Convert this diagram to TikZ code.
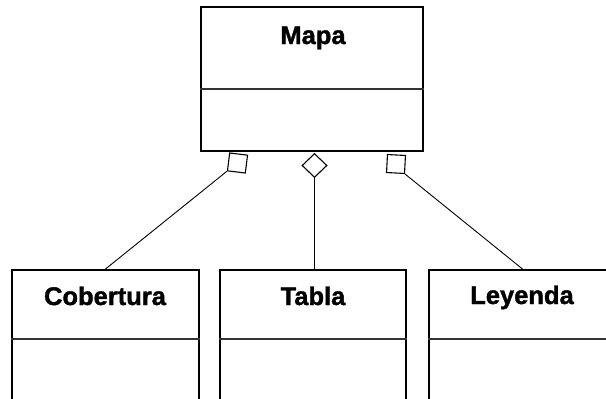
\documentclass[tikz,border=0pt]{standalone}
\usepackage{fontspec}
\setmainfont{Liberation Sans}[BoldFeatures={FakeBold=1.4}]
\usetikzlibrary{shapes.geometric}
\begin{document}
\begin{tikzpicture}[x=1pt,y=-1pt,
  classbox/.style={draw=black, line width=2pt, rectangle, inner sep=0pt},
  divider/.style={draw=black!80, line width=1.4pt},
  title/.style={font=\fontsize{25.5}{30}\selectfont\bfseries, anchor=base, inner sep=0pt},
  aggsq/.style={draw=black, line width=1.1pt, rectangle, minimum width=18pt, minimum height=18pt, inner sep=0pt, fill=white},
  aggdiam/.style={draw=black, line width=1.1pt, diamond, minimum width=25pt, minimum height=24pt, inner sep=0pt, fill=white},
  conn/.style={draw=black, line width=0.9pt}]
\path[use as bounding box, clip] (0,0) rectangle (606,399);
\fill[white] (0,0) rectangle (606,399);
% top class
\node[classbox, minimum width=222pt, minimum height=144pt] (mapa) at (312,79) {};
\node[title] (mapat) at (313,44) {Mapa};
\draw[divider] (mapa.west |- 0,89) coordinate (md1) -- (mapa.east |- 0,89) coordinate (md2);
% bottom classes
\node[classbox, minimum width=187pt, minimum height=160pt] (cob) at (105.5,350) {};
\node[classbox, minimum width=186pt, minimum height=160pt] (tab) at (313,350) {};
\node[classbox, minimum width=187pt, minimum height=160pt] (ley) at (522.5,350) {};
\node[title] (cobt) at (105,305) {Cobertura};
\node[title] (tabt) at (313,305) {Tabla};
\node[title] (leyt) at (522,304) {Leyenda};
\draw[divider] (cob.west |- 0,339) -- (cob.east |- 0,339);
\draw[divider] (tab.west |- 0,339) -- (tab.east |- 0,339);
\draw[divider] (ley.west |- 0,339) -- (ley.east |- 0,339);
% aggregation markers
\node[aggsq, rotate=-7] (dl) at (237.5,163) {};
\node[aggdiam] (dc) at (314.5,165.5) {};
\node[aggsq, rotate=-3] (dr) at (396,164) {};
% connectors
\draw[conn] (dl.south west) -- (cob.north);
\draw[conn] (dc.south) -- (dc.south |- tab.north);
\draw[conn] (dr.south east) -- (ley.north);
\end{tikzpicture}
\end{document}
